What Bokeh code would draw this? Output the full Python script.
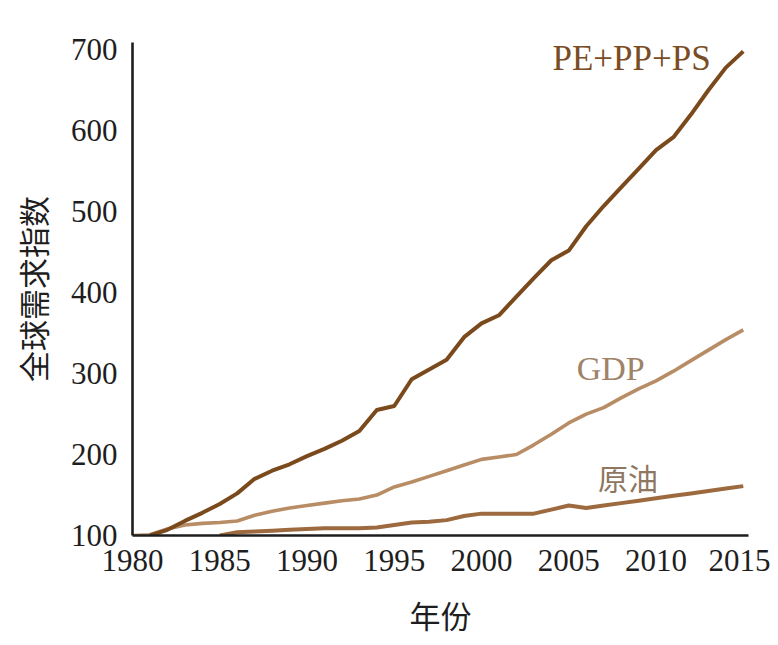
from bokeh.plotting import figure
from bokeh.models import Range1d, FixedTicker, Label
from bokeh.embed import file_html
from bokeh.resources import INLINE

# ---- data ----
pe_years = list(range(1981, 2016))
pe_values = [100, 107, 118, 128, 139, 152, 170, 180, 188, 198, 207, 217, 229, 255, 260,
             293, 305, 317, 345, 362, 372, 395, 418, 440, 452, 482, 507, 530, 553, 576,
             592, 620, 650, 678, 698]

gdp_years = list(range(1980, 2016))
gdp_values = [100, 101, 108, 113, 115, 116, 118, 125, 130, 134, 137, 140, 143, 145, 150,
              160, 166, 173, 180, 187, 194, 197, 200, 212, 225, 239, 250, 258, 270, 281,
              291, 303, 316, 329, 342, 354]

oil_years = list(range(1985, 2016))
oil_values = [100, 104, 105, 106, 107, 108, 109, 109, 109, 110, 113, 116, 117, 119, 124,
              127, 127, 127, 127, 132, 137, 134, 137, 140, 143, 146, 149, 152, 155, 158, 161]

x_ticks = [1980, 1985, 1990, 1995, 2000, 2005, 2010, 2015]
y_ticks = [100, 200, 300, 400, 500, 600, 700]

series_labels = ["PE+PP+PS", "GDP", "原油"]
x_title = "年份"
y_title = "全球需求指数"

# ---- styles ----
pe_color = "#7B4A1C"
gdp_color = "#B88D66"
oil_color = "#9C6A3E"
pe_text = "#7A4C24"
gdp_text = "#9E8369"
oil_text = "#8E7661"

p = figure(frame_width=616, frame_height=493,
           min_border_left=132, min_border_right=22, min_border_top=42, min_border_bottom=92,
           x_range=Range1d(1980, 2015.3), y_range=Range1d(100, 709),
           output_backend="svg", toolbar_location=None)

p.background_fill_color = "white"
p.border_fill_color = "white"
p.outline_line_color = None
p.xgrid.grid_line_color = None
p.ygrid.grid_line_color = None

for ax in (p.xaxis[0], p.yaxis[0]):
    ax.axis_line_color = "#1e1e1e"
    ax.axis_line_width = 2.6
    ax.major_tick_line_color = None
    ax.minor_tick_line_color = None
    ax.major_label_text_font = "Liberation Serif"
    ax.major_label_text_font_size = "31px"
    ax.major_label_text_color = "#1e1e1e"
    ax.axis_label_text_font = "Noto Sans CJK SC"
    ax.axis_label_text_font_size = "31px"
    ax.axis_label_text_font_style = "normal"
    ax.axis_label_text_color = "#1e1e1e"

p.xaxis.ticker = FixedTicker(ticks=x_ticks)
p.yaxis.ticker = FixedTicker(ticks=y_ticks)
p.xaxis.major_label_standoff = 8
p.yaxis.major_label_standoff = 9
p.xaxis.axis_label = x_title
p.yaxis.axis_label = y_title
p.xaxis.axis_label_standoff = 18
p.yaxis.axis_label_standoff = 13

p.line(gdp_years, gdp_values, line_color=gdp_color, line_width=3.6, line_join="round")
p.line(oil_years, oil_values, line_color=oil_color, line_width=4, line_join="round")
p.line(pe_years, pe_values, line_color=pe_color, line_width=4, line_join="round")

p.add_layout(Label(x=2008.6, y=689, text=series_labels[0], text_align="center",
                   text_baseline="middle", text_font="Liberation Serif",
                   text_font_size="35px", text_color=pe_text))
p.add_layout(Label(x=2007.4, y=306, text=series_labels[1], text_align="center",
                   text_baseline="middle", text_font="Liberation Serif",
                   text_font_size="34px", text_color=gdp_text))
p.add_layout(Label(x=2008.4, y=172, text=series_labels[2], text_align="center",
                   text_baseline="middle", text_font="Noto Sans CJK SC",
                   text_font_size="30px", text_color=oil_text))

open("out.html", "w").write(file_html(p, INLINE))
